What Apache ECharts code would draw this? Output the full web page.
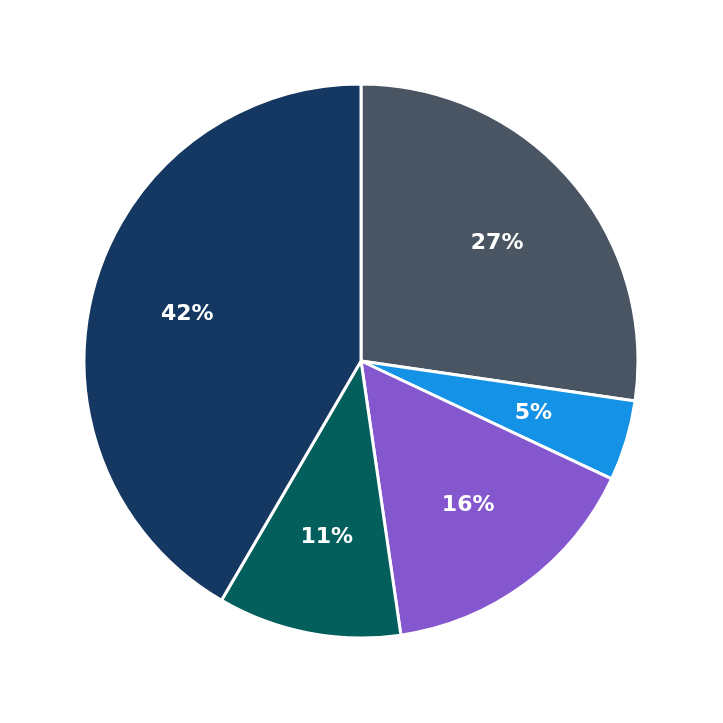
<!DOCTYPE html>
<html>
<head>
<meta charset="utf-8">
<script src="https://cdn.jsdelivr.net/npm/echarts@6/dist/echarts.min.js"></script>
<style>
  html, body { margin: 0; padding: 0; background: #fff; }
  #main { width: 723px; height: 723px; }
</style>
</head>
<body>
<div id="main"></div>
<script>
// slice values, clockwise from 12 o'clock
const names = ['A', 'B', 'C', 'D', 'E'];
const values = [27.3, 4.7, 15.7, 10.7, 41.6];
const colors = ['#4a5563', '#1492e6', '#8457cf', '#035f5b', '#143861'];

const data = names.map((n, i) => ({ name: n, value: values[i], itemStyle: { color: colors[i] } }));
const labelData = names.map((n, i) => ({ name: n, value: values[i] }));

const chart = echarts.init(document.getElementById('main'));
chart.setOption({
  animation: false,
  series: [
    {
      type: 'pie',
      center: [361, 361],
      radius: [0, 277],
      startAngle: 90,
      clockwise: true,
      data: data,
      itemStyle: { borderColor: '#fff', borderWidth: 3 },
      label: { show: false },
      labelLine: { show: false }
    },
    {
      // transparent ring used only to place the labels at ~0.65r
      type: 'pie',
      center: [361, 361],
      radius: [77, 277],
      startAngle: 90,
      clockwise: true,
      silent: true,
      data: labelData,
      itemStyle: { color: 'rgba(0,0,0,0)' },
      label: {
        show: true,
        position: 'inside',
        color: '#fff',
        fontFamily: 'DejaVu Sans',
        fontWeight: 'bold',
        fontSize: 22,
        formatter: p => Math.round(p.value) + '%'
      },
      labelLine: { show: false }
    }
  ]
});
</script>
</body>
</html>
